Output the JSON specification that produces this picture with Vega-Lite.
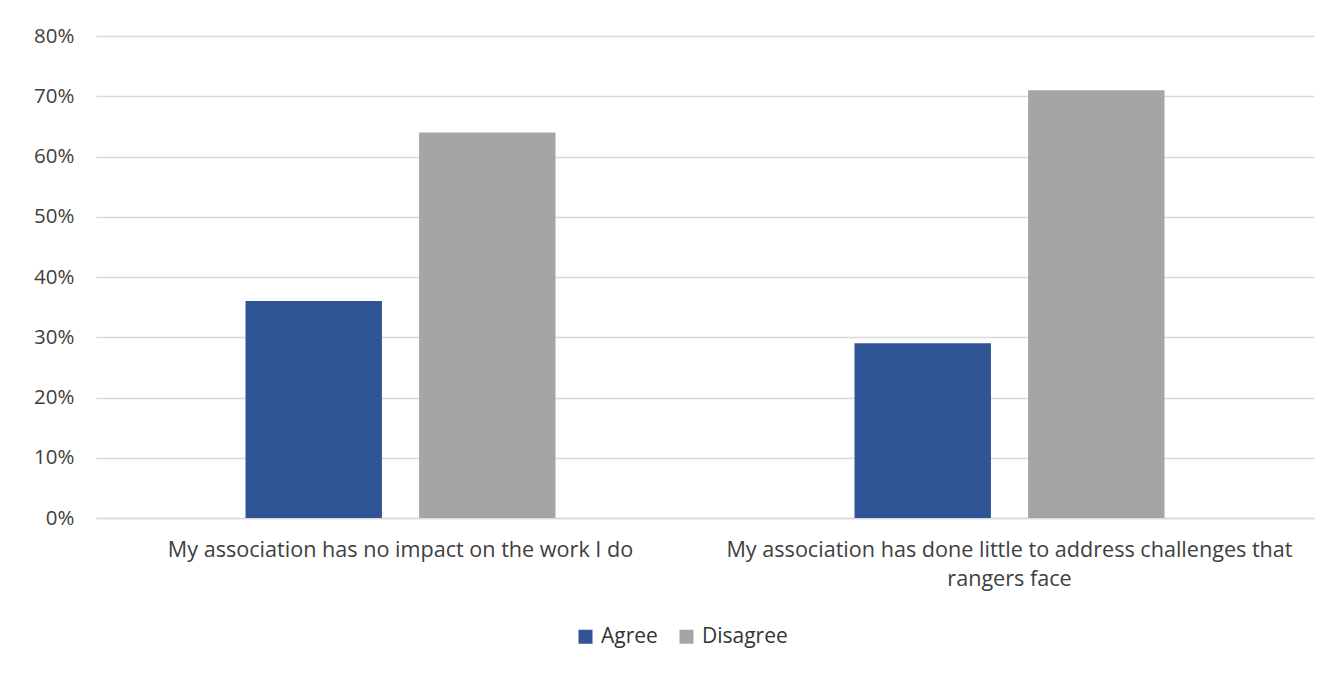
{
  "$schema": "https://vega.github.io/schema/vega-lite/v6.json",
  "autosize": {"type": "none"},
  "padding": {"left": 96, "top": 36, "right": 6, "bottom": 155},
  "width": 1218,
  "height": 482,
  "background": "white",
  "data": {
    "values": [
      {"statement": "My association has no impact on the work I do", "response": "Agree", "share": 0.36},
      {"statement": "My association has no impact on the work I do", "response": "Disagree", "share": 0.64},
      {"statement": "My association has done little to address challenges that rangers face", "response": "Agree", "share": 0.29},
      {"statement": "My association has done little to address challenges that rangers face", "response": "Disagree", "share": 0.71}
    ]
  },
  "mark": {"type": "bar"},
  "encoding": {
    "x": {
      "field": "statement",
      "type": "nominal",
      "sort": null,
      "scale": {"paddingInner": 0.491, "paddingOuter": 0.2455},
      "axis": {
        "title": null,
        "labelAngle": 0,
        "labelFont": "Open Sans",
        "labelFontSize": 21.6,
        "labelColor": "#404040",
        "labelPadding": 21,
        "labelLimit": 0,
        "labelLineHeight": 29,
        "labelBaseline": "top",
        "ticks": false,
        "domainColor": "#D9D9D9",
        "domainWidth": 1.5,
        "labelExpr": "datum.label == 'My association has done little to address challenges that rangers face' ? ['My association has done little to address challenges that', 'rangers face'] : datum.label"
      }
    },
    "xOffset": {
      "field": "response",
      "type": "nominal",
      "scale": {"paddingInner": 0.214, "paddingOuter": 0}
    },
    "y": {
      "field": "share",
      "type": "quantitative",
      "scale": {"domain": [0, 0.8], "nice": false},
      "axis": {
        "title": null,
        "format": ".0%",
        "values": [0, 0.1, 0.2, 0.3, 0.4, 0.5, 0.6, 0.7, 0.8],
        "labelOverlap": false,
        "labelFont": "Open Sans",
        "labelFontSize": 20.5,
        "labelColor": "#404040",
        "labelPadding": 22,
        "ticks": false,
        "domain": false,
        "gridColor": "#D9D9D9",
        "gridWidth": 1.5
      }
    },
    "color": {
      "field": "response",
      "type": "nominal",
      "scale": {"domain": ["Agree", "Disagree"], "range": ["#2F5597", "#A5A5A5"]},
      "legend": {
        "title": null,
        "orient": "none",
        "direction": "horizontal",
        "legendX": 479,
        "legendY": 590,
        "symbolType": "square",
        "symbolSize": 196,
        "symbolStrokeWidth": 0,
        "labelFont": "Open Sans",
        "labelFontSize": 21,
        "labelColor": "#333333",
        "labelOffset": 5,
        "columnPadding": 18
      }
    }
  },
  "config": {
    "view": {"stroke": null}
  }
}
